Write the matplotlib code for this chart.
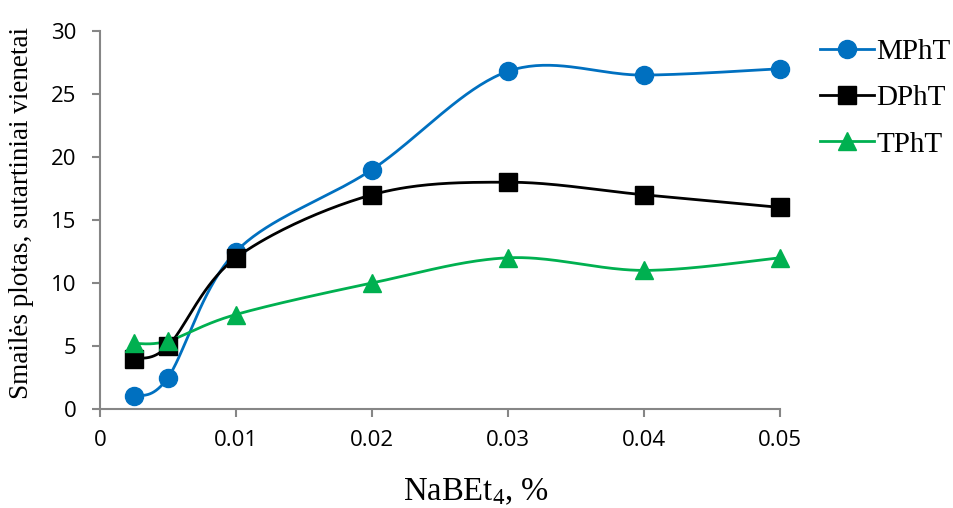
import numpy as np
import matplotlib
matplotlib.use("Agg")
import matplotlib.pyplot as plt
from matplotlib.lines import Line2D

plt.rcParams["mathtext.fontset"] = "custom"
plt.rcParams["mathtext.rm"] = "Liberation Serif"
plt.rcParams["mathtext.it"] = "Liberation Serif:italic"

# NaBEt4 concentration, %
conc = [0.0025, 0.005, 0.01, 0.02, 0.03, 0.04, 0.05]

# Peak areas, arbitrary units
mpht = [1.0, 2.5, 12.5, 19.0, 26.8, 26.5, 27.0]
dpht = [4.0, 5.0, 12.0, 17.0, 18.0, 17.0, 16.0]
tpht = [5.2, 5.4, 7.5, 10.0, 12.0, 11.0, 12.0]

series_names = ["MPhT", "DPhT", "TPhT"]
x_ticks = [0, 0.01, 0.02, 0.03, 0.04, 0.05]
x_tick_labels = ["0", "0.01", "0.02", "0.03", "0.04", "0.05"]
y_ticks = [0, 5, 10, 15, 20, 25, 30]


def smooth(xs, ys, ax, n=40):
    """Spreadsheet-style smoothed line: cubic Bezier segments with
    Catmull-Rom control points, computed in display space."""
    pts = ax.transData.transform(np.column_stack([xs, ys]))
    m = len(pts)
    out = [pts[0]]
    t = np.linspace(0, 1, n)[1:, None]
    for i in range(m - 1):
        p0 = pts[i]
        p3 = pts[i + 1]
        pm = pts[i - 1] if i > 0 else pts[i]
        pp = pts[i + 2] if i + 2 < m else pts[i + 1]
        c1 = p0 + (p3 - pm) / 6.0
        c2 = p3 - (pp - p0) / 6.0
        seg = ((1 - t) ** 3) * p0 + 3 * ((1 - t) ** 2) * t * c1 \
            + 3 * (1 - t) * t ** 2 * c2 + t ** 3 * p3
        out.extend(seg)
    out = np.array(out)
    return ax.transData.inverted().transform(out).T


fig = plt.figure(figsize=(9.54, 5.08), dpi=100)
W, H = 954, 508
ax = fig.add_axes([100 / W, 1 - 409 / H, 680 / W, 378 / H])
ax.set_xlim(0, 0.05)
ax.set_ylim(0, 30)

styles = [
    dict(color="#0070C0", marker="o", ms=13),
    dict(color="#000000", marker="s", ms=12.5),
    dict(color="#00B050", marker="^", ms=13),
]

handles = []
for ys, name, st in zip([mpht, dpht, tpht], series_names, styles):
    sx, sy = smooth(conc, ys, ax)
    ax.plot(sx, sy, color=st["color"], lw=2.0, zorder=2, clip_on=False)
    ax.plot(conc, ys, linestyle="none", marker=st["marker"], ms=st["ms"],
            color=st["color"], mec=st["color"], zorder=3, clip_on=False)
    handles.append(Line2D([], [], color=st["color"], lw=2.0,
                          marker=st["marker"], ms=st["ms"], label=name))

for s in ["top", "right"]:
    ax.spines[s].set_visible(False)
for s in ["left", "bottom"]:
    ax.spines[s].set_color("#868686")
    ax.spines[s].set_linewidth(1.5)

tick_font = {"family": ["Open Sans", "DejaVu Sans"], "size": 16}
ax.set_xticks(x_ticks)
ax.set_xticklabels(x_tick_labels, fontdict=tick_font)
ax.set_yticks(y_ticks)
ax.set_yticklabels([str(v) for v in y_ticks], fontdict=tick_font)
ax.tick_params(axis="both", direction="out", length=6, width=1.5,
               color="#868686", labelcolor="#000000")
ax.tick_params(axis="x", pad=9)
ax.tick_params(axis="y", pad=11)

serif = ["Liberation Serif", "DejaVu Serif"]
fig.text(476 / W, 1 - 492 / H, r"NaBEt$_\mathrm{4}$, %", family=serif,
         size=23.5, ha="center", va="center")
fig.text(22 / W, 1 - 213 / H, "Smailės plotas, sutartiniai vienetai",
         family=serif, size=19.5, rotation=90, ha="center", va="center")

leg = fig.legend(handles=handles, loc="upper left",
                 bbox_to_anchor=(808 / W, 1 - 27 / H), frameon=False,
                 prop={"family": serif, "size": 21}, handlelength=1.85,
                 handletextpad=0.1, labelspacing=0.68, borderaxespad=0)

fig.savefig("out.png", dpi=100)
